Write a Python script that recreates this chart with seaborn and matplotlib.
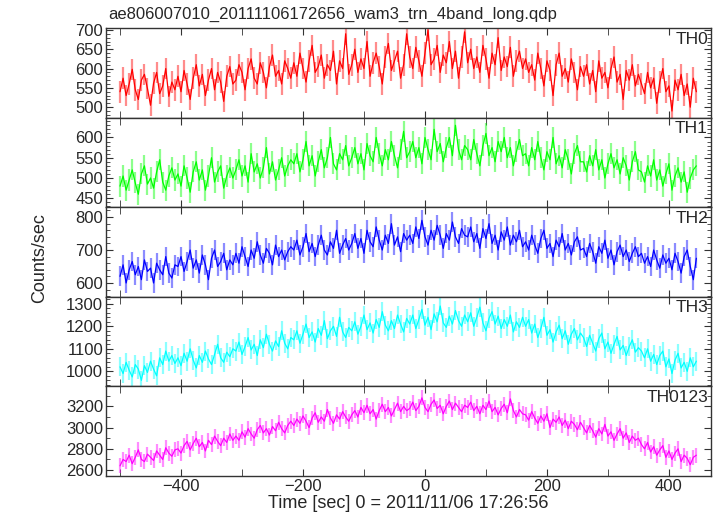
import numpy as np
import pandas as pd
import matplotlib
matplotlib.use('Agg')
import matplotlib.pyplot as plt
import seaborn as sns
from matplotlib.ticker import MultipleLocator

# 时间轴: 5 秒一格, 从 -500 到 445
time_start = -500
bin_width = 5

bands = ['TH0', 'TH1', 'TH2', 'TH3', 'TH0123']
colors = ['#ff0000', '#00ff00', '#0000ff', '#00ffff', '#ff00ff']
# 每个面板的误差棒半长 (从图上估计)
errors = [28, 26, 30, 42, 70]

th0 = [540, 575, 530, 560, 598, 545, 520, 570, 585, 548, 505, 562, 590, 535, 555, 600, 528, 565, 545,
       580, 540, 595, 560, 520, 575, 610, 555, 585, 530, 570, 600, 545, 590, 565, 515, 580, 605, 560,
       570, 610, 590, 545, 600, 625, 575, 560, 615, 590, 550, 605, 635, 580, 595, 560, 620, 600, 575,
       615, 580, 640, 600, 565, 620, 660, 590, 605, 635, 575, 610, 595, 645, 560, 620, 600, 690, 585,
       610, 650, 590, 625, 600, 670, 580, 615, 640, 605, 560, 630, 665, 595, 620, 645, 575, 610, 690,
       630, 600, 655, 620, 580, 640, 700, 610, 625, 660, 590, 635, 615, 670, 600, 645, 575, 630, 695,
       615, 650, 600, 630, 590, 660, 625, 575, 640, 610, 680, 595, 630, 605, 655, 580, 620, 645, 600,
       625, 590, 610, 570, 640, 600, 555, 620, 595, 530, 610, 640, 580, 600, 565, 625, 590, 545, 605,
       580, 610, 560, 595, 540, 620, 575, 590, 550, 600, 630, 565, 585, 520, 595, 570, 610, 555, 585,
       560, 535, 590, 550, 575, 510, 565, 600, 540, 555, 490, 570, 545, 585, 530, 560, 500, 575, 540]

th1 = [480, 505, 470, 495, 520, 488, 460, 510, 530, 485, 500, 475, 515, 545, 490, 470, 505, 525, 495,
       510, 480, 530, 500, 465, 515, 540, 495, 520, 470, 505, 550, 490, 515, 530, 475, 505, 525, 500,
       520, 545, 505, 530, 490, 560, 515, 535, 500, 525, 575, 510, 540, 495, 520, 550, 505, 530, 545,
       535, 560, 515, 545, 590, 530, 555, 505, 540, 570, 525, 550, 600, 535, 520, 560, 545, 580, 530,
       550, 575, 535, 560, 520, 585, 555, 540, 600, 560, 530, 570, 545, 590, 555, 525, 570, 615, 550,
       565, 590, 550, 575, 535, 600, 570, 545, 620, 565, 585, 540, 575, 600, 555, 630, 570, 545, 580,
       570, 545, 595, 560, 530, 580, 610, 555, 575, 540, 590, 565, 600, 550, 575, 530, 565, 595, 555,
       560, 530, 575, 545, 590, 550, 520, 565, 545, 600, 535, 555, 525, 570, 545, 510, 560, 580, 540,
       540, 515, 555, 530, 570, 520, 545, 500, 535, 560, 525, 545, 510, 550, 530, 495, 540, 565, 520,
       515, 490, 530, 505, 545, 495, 520, 480, 510, 535, 470, 505, 525, 490, 515, 465, 500, 520, 530]

th2 = [620, 655, 600, 640, 665, 625, 650, 610, 670, 635, 645, 600, 660, 640, 625, 680, 630, 615, 655,
       650, 680, 635, 665, 700, 645, 670, 630, 685, 655, 610, 675, 700, 650, 665, 690, 640, 670, 655,
       690, 660, 710, 680, 650, 700, 675, 725, 685, 660, 705, 690, 655, 715, 680, 700, 670, 695, 710,
       700, 730, 685, 710, 750, 695, 720, 680, 715, 745, 700, 685, 725, 705, 760, 690, 715, 735, 700,
       720, 750, 705, 735, 690, 760, 725, 710, 770, 730, 700, 745, 720, 780, 715, 740, 695, 750, 730,
       745, 720, 770, 735, 790, 740, 715, 760, 730, 775, 745, 705, 750, 730, 785, 740, 720, 765, 745,
       740, 770, 725, 750, 705, 765, 735, 780, 720, 745, 700, 755, 730, 770, 715, 745, 725, 760, 710,
       725, 700, 745, 715, 690, 735, 760, 705, 720, 680, 730, 710, 750, 700, 720, 685, 725, 740, 700,
       705, 680, 720, 695, 660, 710, 690, 730, 675, 700, 655, 695, 715, 680, 700, 665, 690, 710, 680,
       690, 660, 680, 650, 700, 670, 645, 685, 660, 675, 640, 690, 665, 630, 680, 700, 650, 610, 675]

th3 = [1020, 990, 1040, 1005, 975, 1030, 1010, 960, 1025, 995, 1045, 1010, 980, 1060, 1030, 1090, 1045, 1070, 1035,
       1060, 1025, 1080, 1045, 1100, 1050, 1015, 1070, 1040, 1090, 1055, 1030, 1075, 1120, 1060, 1040, 1085, 1065, 1100,
       1090, 1130, 1075, 1110, 1150, 1095, 1120, 1070, 1140, 1105, 1165, 1120, 1090, 1135, 1110, 1180, 1125, 1100, 1150,
       1140, 1180, 1125, 1165, 1210, 1150, 1175, 1130, 1190, 1160, 1225, 1145, 1180, 1200, 1155, 1240, 1175, 1150, 1195,
       1180, 1220, 1165, 1200, 1250, 1185, 1215, 1170, 1230, 1195, 1265, 1205, 1180, 1225, 1190, 1250, 1210, 1175, 1235,
       1210, 1250, 1190, 1230, 1275, 1205, 1240, 1185, 1255, 1220, 1290, 1215, 1195, 1245, 1210, 1270, 1225, 1200, 1250,
       1220, 1260, 1200, 1240, 1285, 1215, 1180, 1235, 1265, 1210, 1245, 1190, 1230, 1200, 1250, 1175, 1220, 1195, 1240,
       1200, 1230, 1170, 1210, 1150, 1190, 1240, 1160, 1185, 1130, 1175, 1205, 1145, 1180, 1120, 1165, 1190, 1140, 1170,
       1150, 1110, 1160, 1125, 1090, 1145, 1170, 1100, 1130, 1080, 1120, 1155, 1095, 1115, 1070, 1110, 1140, 1085, 1105,
       1090, 1060, 1100, 1045, 1075, 1030, 1070, 1090, 1020, 1055, 990, 1050, 1080, 1015, 1040, 1000, 1060, 1020, 1045]

th0123 = [2640, 2700, 2680, 2740, 2660, 2720, 2790, 2700, 2680, 2750, 2720, 2690, 2780, 2740, 2700, 2810, 2760, 2730, 2790,
          2800, 2760, 2830, 2870, 2790, 2850, 2900, 2820, 2860, 2780, 2880, 2840, 2920, 2870, 2830, 2900, 2860, 2940, 2880,
          2920, 2880, 2960, 2910, 2990, 2940, 2900, 2980, 3020, 2950, 2990, 2930, 3010, 2970, 3050, 2990, 2950, 3020, 3060,
          3020, 3080, 3040, 3110, 3060, 3000, 3090, 3140, 3050, 3100, 3060, 3170, 3090, 3040, 3120, 3080, 3150, 3100, 3060,
          3120, 3160, 3100, 3190, 3140, 3210, 3130, 3170, 3080, 3160, 3220, 3150, 3190, 3110, 3170, 3230, 3150, 3200, 3160,
          3180, 3240, 3160, 3200, 3280, 3190, 3150, 3220, 3260, 3180, 3210, 3130, 3200, 3250, 3170, 3230, 3190, 3150, 3210,
          3190, 3240, 3160, 3200, 3130, 3210, 3170, 3250, 3150, 3190, 3120, 3180, 3220, 3140, 3270, 3160, 3100, 3170, 3130,
          3120, 3070, 3150, 3090, 3040, 3110, 3060, 3130, 3000, 3080, 3050, 3100, 3020, 3070, 2990, 3060, 3030, 2980, 3050,
          3000, 2950, 3020, 2970, 2910, 2990, 2940, 3030, 2920, 2960, 2880, 2940, 2990, 2900, 2950, 2860, 2920, 2880, 2900,
          2840, 2800, 2860, 2770, 2820, 2740, 2790, 2830, 2720, 2780, 2700, 2760, 2800, 2680, 2740, 2710, 2650, 2720, 2740]

series = [th0, th1, th2, th3, th0123]

# 每个面板的 y 范围与刻度
ylims = [(473, 705), (428, 649), (558, 830), (933, 1331), (2544, 3388)]
ymajor = [50, 50, 100, 100, 200]
yminor = [10, 10, 20, 20, 100]


def plot_lightcurve():
    sns.set_style('ticks')
    plt.rcParams['font.family'] = ['Liberation Sans', 'DejaVu Sans']
    plt.rcParams['font.size'] = 12

    n = len(th0)
    t = time_start + bin_width * np.arange(n)

    fig = plt.figure(figsize=(7.17, 5.16), dpi=100)
    left, width = 106 / 717, 605 / 717
    top, bottom = 1 - 28 / 516, 1 - 476 / 516
    h = (top - bottom) / 5

    axes = []
    for i, band in enumerate(bands):
        ax = fig.add_axes([left, top - (i + 1) * h, width, h],
                          sharex=axes[0] if axes else None)
        axes.append(ax)
        df = pd.DataFrame({'time': t, 'rate': series[i]})

        # 误差棒 (浅色)
        ax.vlines(df['time'], df['rate'] - errors[i], df['rate'] + errors[i],
                  color=colors[i], alpha=0.45, lw=1.6)
        # 光变曲线
        sns.lineplot(data=df, x='time', y='rate', ax=ax, color=colors[i],
                     lw=0.9, estimator=None)

        ax.set_ylim(*ylims[i])
        ax.set_xlim(-523, 469)
        ax.yaxis.set_major_locator(MultipleLocator(ymajor[i]))
        ax.yaxis.set_minor_locator(MultipleLocator(yminor[i]))
        ax.xaxis.set_major_locator(MultipleLocator(200))
        ax.xaxis.set_minor_locator(MultipleLocator(100))
        ax.tick_params(which='both', direction='in', top=True, right=True,
                       color='#333333', labelsize=12, pad=2)
        ax.tick_params(which='major', length=5, width=0.8)
        ax.tick_params(which='minor', length=3, width=0.6)
        ax.tick_params(axis='x', which='minor', length=5)
        for s in ax.spines.values():
            s.set_color('#333333')
            s.set_linewidth(1.0)
        ax.set_xlabel('')
        ax.set_ylabel('')
        ax.text(0.995, 0.96, band, transform=ax.transAxes, ha='right', va='top',
                fontsize=12.5)
        if i < 4:
            ax.tick_params(labelbottom=False)

    axes[-1].set_xlabel('Time [sec] 0 = 2011/11/06 17:26:56', fontsize=13, labelpad=1)
    fig.text(40 / 717, 0.5, 'Counts/sec', rotation=90, ha='center', va='center',
             fontsize=13)
    fig.text(108 / 717, 1 - 14 / 516, 'ae806007010_20111106172656_wam3_trn_4band_long.qdp',
             ha='left', va='center', fontsize=12)

    fig.savefig('out.png', dpi=100)


if __name__ == '__main__':
    plot_lightcurve()
